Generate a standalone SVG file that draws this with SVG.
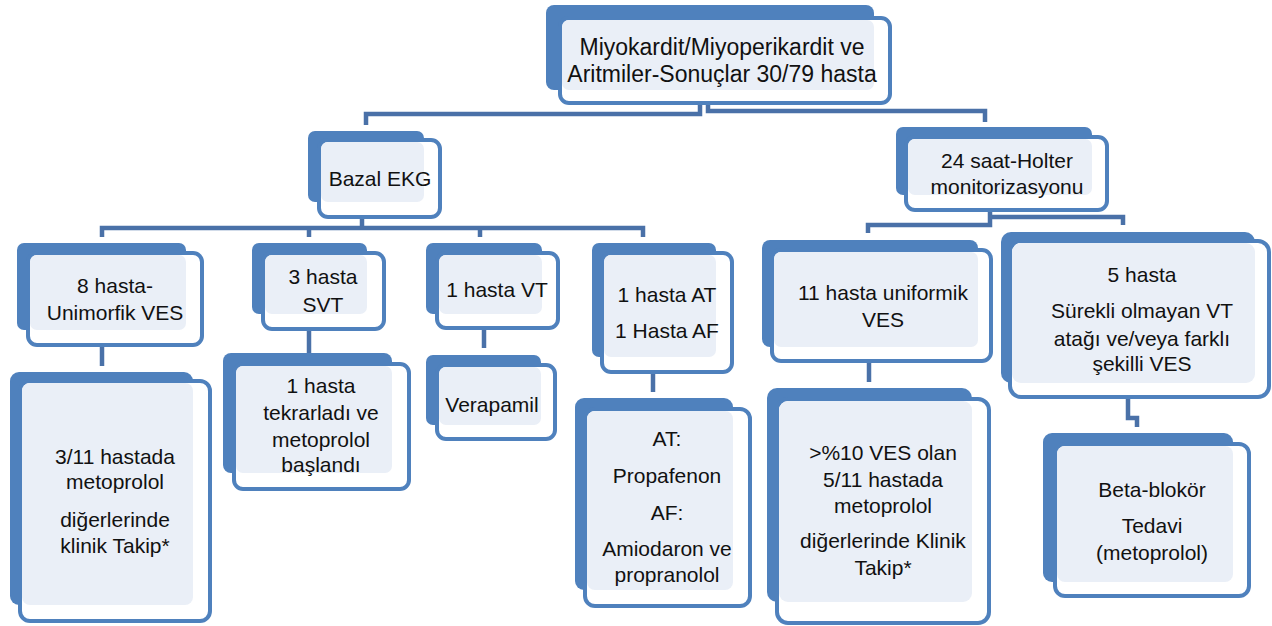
<svg xmlns="http://www.w3.org/2000/svg" width="1272" height="626" viewBox="0 0 1272 626">
<style>
.back{fill:#4F81BD}
.front{fill:#FFFFFF;stroke:#4F81BD;stroke-width:4}
.light{fill:#EAEFF7}
.conn{fill:none;stroke:#4A71A8;stroke-width:4.5}
text{font-family:"Liberation Sans",Arial,sans-serif;font-size:21px;fill:#111111;text-anchor:middle}
.big{font-size:23px}
</style>
<rect width="1272" height="626" fill="#FFFFFF"/>
<g id="connectors">
<path class="conn" d="M700,103 V114 H366 V125"/>
<path class="conn" d="M708,103 V111 H985 V122"/>
<path class="conn" d="M362,217 V228"/>
<path class="conn" d="M102,237 V228 H643 V237"/>
<path class="conn" d="M309,228 V237"/>
<path class="conn" d="M480,228 V237"/>
<path class="conn" d="M102,345 V366"/>
<path class="conn" d="M309,329 V353"/>
<path class="conn" d="M484,328 V348"/>
<path class="conn" d="M653,372 V392"/>
<path class="conn" d="M990,210 V225 H868 V233"/>
<path class="conn" d="M990,217 H1123 V225"/>
<path class="conn" d="M869,361 V382"/>
<path class="conn" d="M1128,397 V418 H1137 V427"/>
</g>
<g id="n1">
<rect class="back" x="546" y="5" width="328" height="85" rx="8"/>
<rect class="front" x="560" y="18" width="330" height="85" rx="9"/>
<rect class="light" x="562" y="20" width="312" height="70" rx="7"/>
<text class="big" x="722" y="55">Miyokardit/Miyoperikardit ve</text>
<text class="big" x="722" y="82">Aritmiler-Sonuçlar 30/79 hasta</text>
</g>
<g id="n2">
<rect class="back" x="308" y="131" width="116" height="71" rx="7"/>
<rect class="front" x="319" y="140" width="121" height="77" rx="9"/>
<rect class="light" x="321" y="142" width="103" height="60" rx="7"/>
<text x="380" y="186">Bazal EKG</text>
</g>
<g id="n3">
<rect class="back" x="17" y="243" width="169" height="87" rx="7"/>
<rect class="front" x="28" y="253" width="174" height="92" rx="9"/>
<rect class="light" x="30" y="255" width="156" height="75" rx="7"/>
<text x="115" y="293">8 hasta-</text>
<text x="115" y="320">Unimorfik VES</text>
</g>
<g id="n4">
<rect class="back" x="252" y="243" width="115" height="71" rx="7"/>
<rect class="front" x="263" y="253" width="121" height="76" rx="9"/>
<rect class="light" x="265" y="255" width="102" height="59" rx="7"/>
<text x="323" y="284">3 hasta</text>
<text x="323" y="312">SVT</text>
</g>
<g id="n5">
<rect class="back" x="426" y="243" width="116" height="71" rx="7"/>
<rect class="front" x="437" y="253" width="121" height="75" rx="9"/>
<rect class="light" x="439" y="255" width="103" height="59" rx="7"/>
<text x="497" y="297">1 hasta VT</text>
</g>
<g id="n6">
<rect class="back" x="592" y="243" width="124" height="114" rx="7"/>
<rect class="front" x="602" y="253" width="130" height="119" rx="9"/>
<rect class="light" x="604" y="255" width="112" height="102" rx="7"/>
<text x="667" y="302">1 hasta AT</text>
<text x="667" y="338">1 Hasta AF</text>
</g>
<g id="n7">
<rect class="back" x="10" y="372" width="183" height="233" rx="9"/>
<rect class="front" x="20" y="381" width="190" height="240" rx="10"/>
<rect class="light" x="22" y="383" width="171" height="222" rx="8"/>
<text x="115" y="464">3/11 hastada</text>
<text x="115" y="489">metoprolol</text>
<text x="115" y="527">diğerlerinde</text>
<text x="115" y="553">klinik Takip*</text>
</g>
<g id="n8">
<rect class="back" x="223" y="353" width="169" height="120" rx="8"/>
<rect class="front" x="234" y="364" width="175" height="125" rx="9"/>
<rect class="light" x="236" y="366" width="156" height="107" rx="7"/>
<text x="321" y="393">1 hasta</text>
<text x="321" y="420">tekrarladı ve</text>
<text x="321" y="447">metoprolol</text>
<text x="321" y="472">başlandı</text>
</g>
<g id="n9">
<rect class="back" x="426" y="355" width="115" height="70" rx="7"/>
<rect class="front" x="437" y="365" width="118" height="74" rx="9"/>
<rect class="light" x="439" y="367" width="102" height="58" rx="7"/>
<text x="492" y="412">Verapamil</text>
</g>
<g id="n10">
<rect class="back" x="575" y="398" width="158" height="192" rx="9"/>
<rect class="front" x="585" y="409" width="165" height="197" rx="10"/>
<rect class="light" x="587" y="411" width="146" height="179" rx="8"/>
<text x="667" y="446">AT:</text>
<text x="667" y="483">Propafenon</text>
<text x="667" y="520">AF:</text>
<text x="667" y="556">Amiodaron ve</text>
<text x="667" y="582">propranolol</text>
</g>
<g id="n11">
<rect class="back" x="896" y="127" width="196" height="68" rx="7"/>
<rect class="front" x="906" y="137" width="201" height="73" rx="9"/>
<rect class="light" x="908" y="139" width="184" height="56" rx="7"/>
<text x="1007" y="168">24 saat-Holter</text>
<text x="1007" y="194">monitorizasyonu</text>
</g>
<g id="n12">
<rect class="back" x="762" y="240" width="216" height="107" rx="8"/>
<rect class="front" x="772" y="250" width="219" height="111" rx="9"/>
<rect class="light" x="774" y="252" width="204" height="95" rx="7"/>
<text x="883" y="300">11 hasta uniformik</text>
<text x="883" y="327">VES</text>
</g>
<g id="n13">
<rect class="back" x="1001" y="232" width="254" height="151" rx="10"/>
<rect class="front" x="1010" y="241" width="259" height="156" rx="11"/>
<rect class="light" x="1012" y="243" width="243" height="140" rx="9"/>
<text x="1142" y="282">5 hasta</text>
<text x="1142" y="318">Sürekli olmayan VT</text>
<text x="1142" y="346">atağı ve/veya farklı</text>
<text x="1142" y="371">şekilli VES</text>
</g>
<g id="n14">
<rect class="back" x="767" y="388" width="205" height="214" rx="10"/>
<rect class="front" x="777" y="399" width="212" height="224" rx="11"/>
<rect class="light" x="779" y="401" width="193" height="201" rx="9"/>
<text x="883" y="460">&gt;%10 VES olan</text>
<text x="883" y="487">5/11 hastada</text>
<text x="883" y="513">metoprolol</text>
<text x="883" y="548">diğerlerinde Klinik</text>
<text x="883" y="575">Takip*</text>
</g>
<g id="n15">
<rect class="back" x="1043" y="433" width="190" height="149" rx="9"/>
<rect class="front" x="1055" y="444" width="194" height="152" rx="10"/>
<rect class="light" x="1057" y="446" width="176" height="136" rx="8"/>
<text x="1152" y="497">Beta-blokör</text>
<text x="1152" y="533">Tedavi</text>
<text x="1152" y="560">(metoprolol)</text>
</g>
</svg>
